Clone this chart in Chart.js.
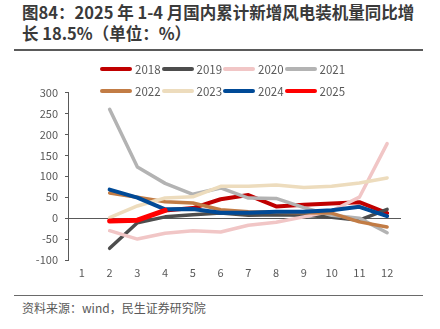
<!DOCTYPE html>
<html>
<head>
<meta charset="utf-8">
<script src="https://cdn.jsdelivr.net/npm/chart.js@4"></script>
<style>
  body { margin: 0; width: 440px; height: 329px; background: #fff; position: relative; overflow: hidden;
         font-family: "Noto Sans CJK SC", "Noto Sans", sans-serif; }
  .title { position: absolute; left: 22px; top: 2px; width: 410px; font-size: 16.5px; font-weight: bold;
           line-height: 21px; color: #3a3a3a; white-space: nowrap; }
  .rule-top { position: absolute; left: 14px; top: 49px; width: 409px; height: 2px; background: #5a5a5a; }
  .rule-bottom { position: absolute; left: 14px; top: 295px; width: 409px; height: 1px; background: #6a6a6a; }
  .source { position: absolute; left: 22px; top: 299px; font-size: 12px; color: #595959; }
  #chart-box { position: absolute; left: 0; top: 55px; width: 440px; height: 235px; }
  #legend { position: absolute; left: 100px; top: 61px; width: 260px; }
  .lg-item { position: absolute; height: 16px; font-size: 11.5px; color: #595959; line-height: 16px; }
  .lg-item i { position: absolute; left: 0; top: 6px; width: 32px; height: 4px; border-radius: 2px; }
  .lg-item span { position: absolute; left: 35px; top: 0; }
</style>
</head>
<body>
<div class="title">图84：2025 年 1-4 月国内累计新增风电装机量同比增<br>长 18.5%（单位：%）</div>
<div class="rule-top"></div>
<div id="chart-box"><canvas id="c"></canvas></div>
<div id="legend"></div>
<div class="rule-bottom"></div>
<div class="source">资料来源：wind，民生证券研究院</div>
<script>
// 月份
const months = ["1", "2", "3", "4", "5", "6", "7", "8", "9", "10", "11", "12"];
const years = ["2018", "2019", "2020", "2021", "2022", "2023", "2024", "2025"];

// 各年累计新增装机同比 (%)
const s2018 = [null, null, null, 18, 24, 45, 55, 28, 32, 35, 38, 12];
const s2019 = [null, -72, -11, 3, 8, 12, 7, 8, 7, 2, -5, 21];
const s2020 = [null, -30, -50, -36, -30, -33, -17, -10, 3, 17, 50, 178];
const s2021 = [null, 260, 122, 83, 57, 72, 48, 47, 25, 7, 0, -35];
const s2022 = [null, 60, 50, 39, 36, 20, 15, 14, 13, 12, -9, -21];
const s2023 = [null, 1, 29, 48, 51, 76, 76, 79, 73, 76, 84, 96];
const s2024 = [null, 68, 49, 21, 22, 13, 13, 15, 15, 19, 27, 5];
const s2025 = [null, -7, -5, 18.5];

const seriesValues = [s2018, s2019, s2020, s2021, s2022, s2023, s2024, s2025];
const colors = ["#c00000", "#4d4d4d", "#f1c6c6", "#b3b3b3", "#c27c45", "#eddcbd", "#004a97", "#ff0000"];
const widths = [4, 3.5, 3.5, 3.5, 3.5, 3.5, 4, 5];

const yTicks = { min: -100, max: 300, step: 50 };

// 图例 (两行，每行4个)
const legend = document.getElementById("legend");
years.forEach((y, i) => {
    const d = document.createElement("div");
    d.className = "lg-item";
    d.style.left = (i % 4) * 61.5 + "px";
    d.style.top = Math.floor(i / 4) * 22 + "px";
    d.innerHTML = `<i style="background:${colors[i]}"></i><span>${y}</span>`;
    legend.appendChild(d);
});

const datasets = years.map((y, i) => ({
    label: y,
    data: seriesValues[i],
    borderColor: colors[i],
    backgroundColor: colors[i],
    borderWidth: widths[i],
    pointRadius: 0,
    tension: 0,
    spanGaps: false,
    borderCapStyle: "round",
    borderJoinStyle: "round",
    order: years.length - i   // 后面的年份画在上面
}));

new Chart(document.getElementById("c"), {
    type: "line",
    data: { labels: months, datasets },
    options: {
        responsive: true,
        maintainAspectRatio: false,
        animation: false,
        layout: { padding: { top: 37.5, right: 39, left: 0, bottom: 0 } },
        plugins: { legend: { display: false }, tooltip: { enabled: false } },
        scales: {
            x: {
                offset: true,
                grid: { display: false, drawTicks: false },
                border: { display: false },
                ticks: { color: "#595959", font: { size: 11, family: "Noto Sans CJK SC" }, padding: 6, maxRotation: 0 },
                afterFit: s => { s.height = 30; }
            },
            y: {
                min: yTicks.min,
                max: yTicks.max,
                ticks: { stepSize: yTicks.step, color: "#595959", font: { size: 11, family: "Noto Sans CJK SC" }, padding: 7 },
                grid: {
                    color: c => (c.tick && c.tick.value === 0 ? "#595959" : "rgba(0,0,0,0)"),
                    tickColor: "#595959",
                    tickLength: 3,
                    lineWidth: 1
                },
                border: { display: true, color: "#595959", width: 1 },
                afterFit: s => { s.width = 68; }
            }
        }
    }
});
</script>
</body>
</html>
